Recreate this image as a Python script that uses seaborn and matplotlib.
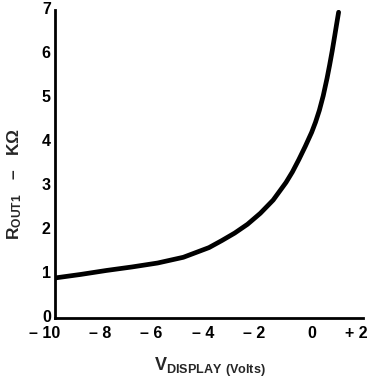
import seaborn as sns
import numpy as np
import pandas as pd
import matplotlib.pyplot as plt
from matplotlib.transforms import ScaledTranslation

# curve
v_display = [-10, -9, -8, -7, -6, -5, -4, -3.5, -3, -2.5, -2, -1.5, -1.25, -1, -0.75, -0.5, -0.25,
             0, 0.15, 0.3, 0.45, 0.6, 0.7, 0.8, 0.9, 0.97, 1.05]
r_out = [0.91, 0.99, 1.08, 1.16, 1.25, 1.38, 1.6, 1.76, 1.93, 2.13, 2.38, 2.68, 2.88, 3.08, 3.32, 3.6, 3.9,
         4.22, 4.45, 4.72, 5.05, 5.45, 5.75, 6.07, 6.42, 6.67, 6.95]

x_ticks = [-10, -8, -6, -4, -2, 0, 2]
x_labels = ['\u2013 10', '\u2013 8', '\u2013 6', '\u2013 4', '\u2013 2', '0', '+ 2']
y_ticks = [0, 1, 2, 3, 4, 5, 6, 7]

df = pd.DataFrame({'v': v_display, 'r': r_out})

sns.set_style('white')
plt.rcParams['font.family'] = ['Liberation Sans', 'DejaVu Sans']
plt.rcParams['font.weight'] = 'bold'
plt.rcParams['mathtext.fontset'] = 'custom'
plt.rcParams['mathtext.rm'] = 'Liberation Sans:bold'
plt.rcParams['mathtext.bf'] = 'Liberation Sans:bold'

fig = plt.figure(figsize=(3.71, 3.85), dpi=100)
ax = fig.add_axes([55 / 371, 1 - 318 / 385, 308 / 371, 308 / 385])

sns.lineplot(data=df, x='v', y='r', ax=ax, color='black', linewidth=3.4)

ax.set_xlim(-10, 2)
ax.set_ylim(0, 7)
ax.set_xticks(x_ticks)
ax.set_xticklabels(x_labels)
ax.set_yticks(y_ticks)

for side in ['top', 'right']:
    ax.spines[side].set_visible(False)
for side in ['left', 'bottom']:
    ax.spines[side].set_linewidth(2)
    ax.spines[side].set_color('black')

ax.tick_params(direction='in', length=7, width=1.5, labelsize=11.5, colors='black')
ax.tick_params(axis='y', pad=3)
ax.tick_params(axis='x', pad=6)

# labels hang left of their tick, digit roughly under it
offset = ScaledTranslation(0.05, 0, fig.dpi_scale_trans)
for lab in ax.get_xticklabels():
    lab.set_horizontalalignment('right')
    lab.set_transform(lab.get_transform() + offset)
    lab.set_fontweight('bold')
lift = ScaledTranslation(0, 0.02, fig.dpi_scale_trans)
for lab in ax.get_yticklabels():
    lab.set_fontweight('bold')
    lab.set_transform(lab.get_transform() + lift)

ax.set_xlabel('')
ax.set_ylabel('')
fig.text(210 / 371, 1 - 367 / 385, '$\\mathregular{V_{DISPLAY\\ (Volts)}}$',
         ha='center', va='center', fontsize=13)
fig.text(15 / 371, 1 - 184 / 385, '$\\mathregular{R_{OUT1}}$   \u2013   K\u03a9',
         ha='center', va='center', rotation=90, fontsize=12.5, fontweight='bold')

plt.savefig('out.png', dpi=100)
